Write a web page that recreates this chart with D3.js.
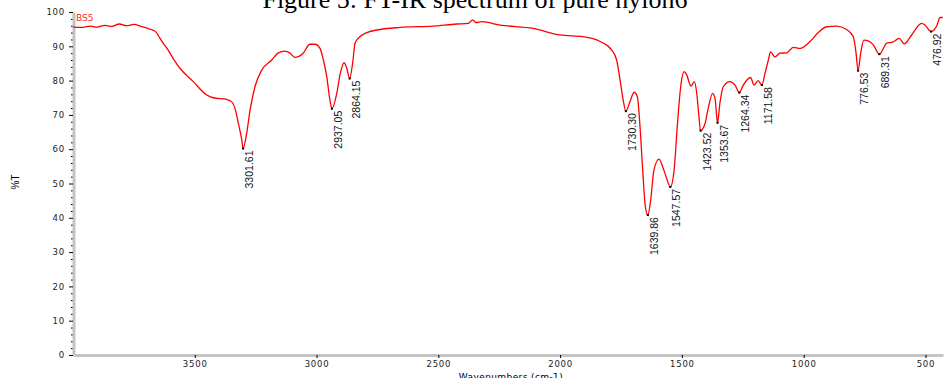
<!DOCTYPE html>
<html>
<head>
<meta charset="utf-8">
<script src="https://cdn.jsdelivr.net/npm/d3@7"></script>
<style>
  body { margin: 0; background: #fff; }
  svg { display: block; }
</style>
</head>
<body>
<div id="chart"></div>
<script>
// Spectrum trace (wavenumber cm-1, %T)
const wavenumbers = [4000, 3960, 3930, 3900, 3870, 3840, 3810, 3780, 3750, 3720, 3700, 3680, 3660, 3640,
  3630, 3614, 3589, 3561, 3506, 3451, 3424, 3369, 3348, 3335, 3321, 3307, 3301.61, 3287, 3273, 3253,
  3225, 3184, 3157, 3130, 3109, 3089, 3055, 3027, 3006, 2986, 2972, 2958, 2945, 2937.05, 2917, 2904,
  2887, 2876, 2864.15, 2852, 2842, 2829, 2794, 2740, 2658, 2522, 2425, 2377, 2359, 2345, 2322, 2247,
  2110, 2001, 1906, 1836, 1788, 1768, 1754, 1741, 1730.30, 1713, 1696, 1683, 1672, 1661, 1650,
  1639.86, 1628, 1615, 1594, 1579, 1565, 1547.57, 1532, 1519, 1505, 1491, 1480, 1463, 1449, 1439,
  1430, 1423.52, 1405, 1392, 1374, 1364, 1357, 1353.67, 1344, 1330, 1303, 1282, 1264.34, 1248, 1218,
  1204, 1187, 1171.58, 1159, 1145, 1136, 1118, 1097, 1070, 1043, 1015, 974, 940, 906, 865, 824, 796,
  785, 776.53, 766, 753, 735, 714, 689.31, 659, 635, 608, 587, 557, 516, 502, 476.92, 454, 440, 429];
const transmittance = [95.6, 95.5, 95.9, 95.6, 96.1, 95.8, 96.5, 96.0, 96.4, 95.8, 95.4, 94.9, 94.2, 92.0,
  90.9, 89.4, 86.5, 83.6, 79.7, 75.8, 75.0, 74.5, 73.8, 71.9, 67.5, 62.7, 60.2, 64.6, 71.4, 78.2,
  83.1, 86.0, 88.1, 88.6, 88.0, 86.8, 88.0, 90.6, 90.6, 89.4, 86.0, 81.1, 74.3, 71.8, 76.3, 81.6,
  85.2, 83.6, 80.6, 85.0, 90.9, 92.3, 94.0, 94.9, 95.5, 95.9, 96.5, 96.7, 97.7, 96.9, 97.2, 96.2,
  95.2, 93.3, 92.8, 91.4, 88.9, 86.0, 80.2, 74.3, 71.1, 73.9, 76.6, 75.3, 66.6, 53.9, 43.2,
  40.8, 45.2, 53.9, 57.1, 54.9, 52.0, 49.0, 53.9, 66.6, 78.2, 82.6, 81.6, 78.4, 79.7, 76.3,
  69.5, 65.4, 67.5, 71.9, 76.3, 74.8, 69.5, 67.7, 73.4, 78.2, 79.7, 78.7, 76.5, 78.7, 80.9,
  78.7, 80.0, 78.7, 82.1, 86.0, 88.4, 86.9, 88.0, 88.1, 89.7, 89.4, 91.4, 94.0, 95.7, 95.9, 94.9, 92.8,
  88.0, 82.9, 88.0, 91.8, 91.6, 90.4, 87.7, 90.9, 91.2, 92.3, 90.7, 93.3, 96.7, 96.2, 94.3, 95.9, 98.4, 98.4];

// Labelled peaks
const peakLabels = ["3301.61", "2937.05", "2864.15", "1730.30", "1639.86", "1547.57", "1423.52",
  "1353.67", "1264.34", "1171.58", "776.53", "689.31", "476.92"];

const yMajorTicks = [0, 10, 20, 30, 40, 50, 60, 70, 80, 90, 100];
const xMajorTicks = [3500, 3000, 2500, 2000, 1500, 1000, 500];

const data = wavenumbers.map((w, i) => ({ w: w, t: transmittance[i] }));
const peaks = peakLabels.map(s => data.find(d => d.w === +s));

const width = 944;
const height = 378;
const margin = { top: 12, right: 1, bottom: 23, left: 73 };

const svg = d3.select("#chart")
  .append("svg")
  .attr("width", width)
  .attr("height", height);

const x = d3.scaleLinear()
  .domain([4000, 428])
  .range([margin.left, width - margin.right]);

const y = d3.scaleLinear()
  .domain([0, 100])
  .range([height - margin.bottom, margin.top]);

const axisFont = "'DejaVu Sans', Verdana, sans-serif";

// Title (partly cut off at the top, like the source)
svg.append("text")
  .attr("x", 475)
  .attr("y", 8)
  .attr("text-anchor", "middle")
  .style("font-family", "'Liberation Serif', 'Times New Roman', serif")
  .style("font-size", "26px")
  .text("Figure 5: FT-IR spectrum of pure nylon6");

// Y axis: grey bar, minor ticks every 2
const yMinor = d3.range(0, 101, 2).filter(v => v % 10 !== 0);
svg.append("g")
  .attr("transform", `translate(${margin.left}, 0)`)
  .call(d3.axisLeft(y).tickValues(yMinor).tickSize(2).tickFormat(""))
  .call(g => g.select(".domain").remove())
  .call(g => g.selectAll("line").attr("stroke", "#000"));

svg.append("g")
  .attr("transform", `translate(${margin.left}, 0)`)
  .call(d3.axisLeft(y).tickValues(yMajorTicks).tickSize(4).tickSizeOuter(0).tickPadding(4))
  .call(g => g.select(".domain").attr("stroke", "#c4c4c4").attr("stroke-width", 3)
    .attr("transform", "translate(0.5,0)"))
  .call(g => g.selectAll("line").attr("stroke", "#000"))
  .call(g => g.selectAll("text")
    .style("font-family", axisFont)
    .style("font-size", "8.5px")
    .style("letter-spacing", "0.8px")
    .attr("fill", "#222"));

// X axis
const xMinor = d3.range(3900, 430, -100).filter(v => v % 500 !== 0);
svg.append("g")
  .attr("transform", `translate(0, ${height - margin.bottom - 1})`)
  .call(d3.axisBottom(x).tickValues(xMinor).tickSize(2).tickFormat(""))
  .call(g => g.select(".domain").remove())
  .call(g => g.selectAll("line").attr("stroke", "#000"));

svg.append("g")
  .attr("transform", `translate(0, ${height - margin.bottom})`)
  .call(d3.axisBottom(x).tickValues(xMajorTicks).tickSize(3).tickSizeOuter(0).tickPadding(3)
    .tickFormat(d3.format("d")))
  .call(g => g.select(".domain").attr("stroke", "#c4c4c4").attr("stroke-width", 3))
  .call(g => g.selectAll("line").attr("stroke", "#000"))
  .call(g => g.selectAll("text")
    .style("font-family", axisFont)
    .style("font-size", "8.5px")
    .style("letter-spacing", "0.8px")
    .attr("fill", "#222"));

// Axis labels
svg.append("text")
  .attr("x", 511)
  .attr("y", 380)
  .attr("text-anchor", "middle")
  .style("font-family", axisFont)
  .style("font-size", "9px")
  .style("letter-spacing", "0.4px")
  .text("Wavenumbers (cm-1)");

svg.append("text")
  .attr("transform", "translate(19, 182) rotate(-90)")
  .attr("text-anchor", "middle")
  .style("font-family", "'Liberation Sans Narrow', 'Liberation Sans', Arial, sans-serif")
  .style("font-size", "10px")
  .text("%T");

// Sample name
svg.append("text")
  .attr("x", 76)
  .attr("y", 21)
  .attr("fill", "#ff2a2a")
  .style("font-family", axisFont)
  .style("font-size", "9px")
  .text("BS5");

// Spectrum line
const line = d3.line()
  .x(d => x(d.w))
  .y(d => y(d.t))
  .curve(d3.curveMonotoneX);

svg.append("path")
  .datum(data)
  .attr("fill", "none")
  .attr("stroke", "#ff0000")
  .attr("stroke-width", 1.3)
  .attr("d", line);

// Peak markers and labels
svg.append("g")
  .selectAll("rect")
  .data(peaks)
  .join("rect")
  .attr("x", d => x(d.w) - 1)
  .attr("y", d => y(d.t) - 1)
  .attr("width", 2)
  .attr("height", 2)
  .attr("fill", "#000");

svg.append("g")
  .selectAll("text")
  .data(peaks)
  .join("text")
  .attr("transform", d => `translate(${x(d.w) + 10}, ${y(d.t) + 2}) rotate(-90)`)
  .attr("text-anchor", "end")
  .style("font-family", "'Liberation Sans Narrow', 'Arial Narrow', 'Liberation Sans', sans-serif")
  .style("font-size", "10.5px")
  .attr("fill", "#111")
  .text((d, i) => peakLabels[i]);
</script>
</body>
</html>
